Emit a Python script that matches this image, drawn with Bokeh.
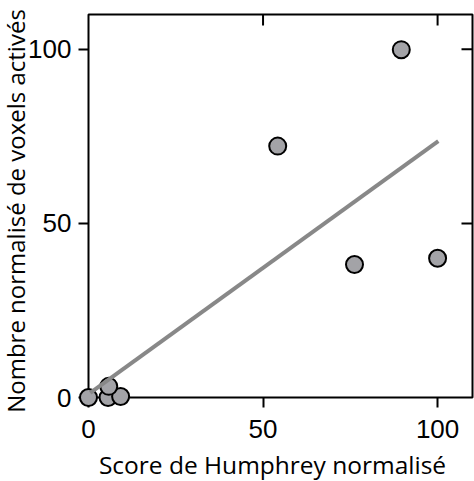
import math
from bokeh.plotting import figure
from bokeh.models import Range1d, LinearAxis, FixedTicker
from bokeh.core.properties import value
from bokeh.embed import file_html
from bokeh.resources import INLINE

# data
humphrey = [0, 5.6, 9.2, 5.8, 54.2, 76.2, 89.6, 100]
voxels = [0, 0, 0.3, 3.2, 72.2, 38.2, 99.9, 40.0]
fit_x = [0.5, 100.2]
fit_y = [1.3, 73.6]
ticks = [0, 50, 100]
inner_ticks = [50, 100]
x_max = 110
y_max = 110
x_title = "Score de Humphrey normalisé"
y_title = "Nombre normalisé de voxels activés"

p = figure(width=474, height=481, output_backend="svg", toolbar_location=None,
           x_range=Range1d(0, x_max), y_range=Range1d(0, y_max),
           x_axis_location=None, y_axis_location=None,
           min_border_left=88, min_border_right=2, min_border_top=14, min_border_bottom=84)
p.grid.visible = False
p.outline_line_color = "black"
p.outline_line_width = 2
p.background_fill_color = "white"
p.border_fill_color = "white"

def make_axis(side):
    ax = LinearAxis(ticker=FixedTicker(ticks=ticks))
    ax.axis_line_color = None
    ax.major_tick_line_color = "black"
    ax.major_tick_line_width = 2
    ax.minor_tick_line_color = None
    ax.major_tick_out = 10
    ax.major_tick_in = 0
    ax.major_label_text_font = "Liberation Sans"
    ax.major_label_text_font_size = "26px"
    ax.major_label_text_color = "black"
    p.add_layout(ax, side)
    return ax

bx = make_axis("below")
bx.major_label_standoff = 12
ly = make_axis("left")
ly.major_label_standoff = 7

# axis titles as text drawn beside the box (overlay level so they are not clipped)
xt = p.text(x=[x_max / 2], y=[0], text=[x_title], x_offset=-8, y_offset=67,
            text_align="center", text_baseline="alphabetic",
            text_font=value("Open Sans"), text_font_size="24.5px", text_color="black")
xt.level = "overlay"
yt = p.text(x=[0], y=[y_max / 2], text=[y_title], x_offset=-73, y_offset=5,
            angle=math.pi / 2, text_align="center", text_baseline="middle",
            text_font=value("Open Sans"), text_font_size="24px", text_color="black")
yt.level = "overlay"

# inward ticks on the top and right sides of the box
p.ray(inner_ticks, [y_max] * len(inner_ticks), length=11, length_units="screen",
      angle=-math.pi / 2, line_color="black", line_width=2)
p.ray([x_max] * len(inner_ticks), inner_ticks, length=11, length_units="screen",
      angle=math.pi, line_color="black", line_width=2)

pts = p.scatter(humphrey, voxels, size=17, fill_color="#a3a3a7", line_color="black", line_width=2)
pts.level = "overlay"
ln = p.line(fit_x, fit_y, line_color="#888888", line_width=4)
ln.level = "overlay"

open("out.html", "w").write(file_html(p, INLINE))
